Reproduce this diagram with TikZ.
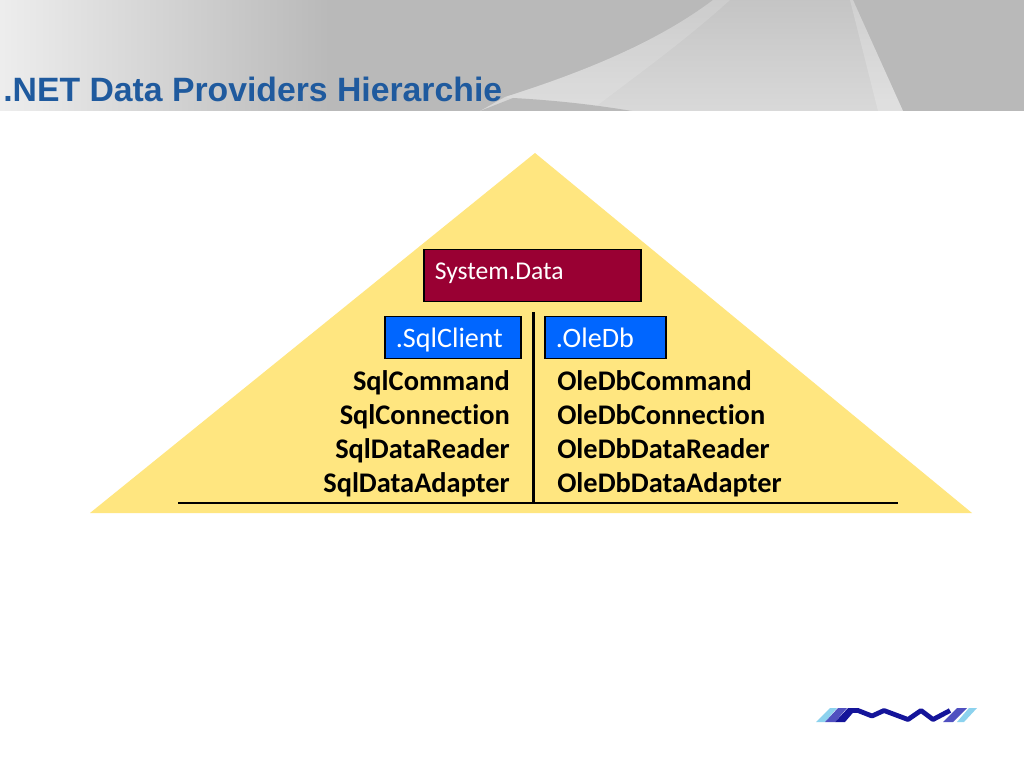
\documentclass[tikz,border=0pt]{standalone}
\usepackage{fontspec}
\setmainfont[RawFeature=-liga]{Carlito}
\newfontfamily\titlefont{Liberation Sans}
\usetikzlibrary{calc}
\definecolor{headgrey}{HTML}{B9B9B9}
\definecolor{roofyellow}{HTML}{FFE680}
\definecolor{winered}{HTML}{990033}
\definecolor{clientblue}{HTML}{0066FF}
\definecolor{titleblue}{HTML}{1F5A9E}
\definecolor{logodark}{HTML}{14149A}
\definecolor{logomid}{HTML}{5050C0}
\definecolor{logolight}{HTML}{8CD2EE}
\tikzset{
	nsbox/.style={draw=black, line width=0.45mm, text=white, anchor=west, align=left, inner xsep=11*0.025cm, text height=17pt, text depth=2.3pt, font=\fontsize{20}{22}\selectfont},
	classname/.style={font=\fontsize{20.2}{22}\selectfont\bfseries, text=black, inner sep=0pt},
	rule/.style={line width=0.55mm, black},
}
\begin{document}
\begin{tikzpicture}[x=0.025cm, y=-0.025cm]
		%%%%% START %%%%%
		\useasboundingbox (0, 0) rectangle (1024, 768);
		\fill[white] (0, 0) rectangle (1024, 768);
		
		% header band
		\shade[left color=white!93!black, right color=headgrey] (0, 0) rectangle (330, 111);
		\fill[headgrey] (330, 0) rectangle (1024, 111);
		\shade[shading angle=35, top color=black!23, bottom color=black!15] (713, 0) -- (853, 0) -- (903, 111) -- (480, 111) -- (505, 97) .. controls (590, 70) and (660, 40) .. cycle;
		\fill[white, fill opacity=0.14] (505, 97) .. controls (590, 70) and (660, 40) .. (713, 0) -- (730, 0) .. controls (680, 45) and (630, 80) .. (590, 111) -- (560, 111) -- cycle;
		\fill[white, fill opacity=0.2] (850, 0) -- (853, 0) -- (903, 111) -- (878, 111) -- cycle;
		\fill[headgrey] (480, 111) -- (513, 98) .. controls (550, 100) and (590, 104) .. (632, 111) -- cycle;
		\node[font=\titlefont\fontsize{24}{26}\selectfont\bfseries, text=titleblue, anchor=base west, inner sep=0pt] (title) at (3, 102) {.NET Data Providers Hierarchie};
		
		% roof
		\fill[roofyellow] (535, 153) -- (972, 513) -- (90, 513) -- cycle;
		
		\node[nsbox, fill=winered, minimum width=217*0.025cm, minimum height=52*0.025cm, text width=195*0.025cm, text height=13pt, text depth=8pt, font=\fontsize{18.2}{20}\selectfont] (sysdata) at (423, 275.5) {System.Data};
		\node[nsbox, fill=clientblue, minimum width=136*0.025cm, minimum height=42*0.025cm, text width=114*0.025cm] (sqlclient) at (384, 337.5) {.SqlClient};
		\node[nsbox, fill=clientblue, minimum width=121*0.025cm, minimum height=42*0.025cm, text width=99*0.025cm] (oledb) at (544, 337.5) {.OleDb};
		
		% class lists
		\node[classname, anchor=base east] (sqlcmd) at (510, 390) {SqlCommand};
		\node[classname, anchor=base east] (sqlconn) at (510, 424) {SqlConnection};
		\node[classname, anchor=base east] (sqlread) at (510, 458) {SqlDataReader};
		\node[classname, anchor=base east] (sqladapt) at (510, 492) {SqlDataAdapter};
		\node[classname, anchor=base west] (olecmd) at (557, 390) {OleDbCommand};
		\node[classname, anchor=base west] (oleconn) at (557, 424) {OleDbConnection};
		\node[classname, anchor=base west] (oleread) at (557, 458) {OleDbDataReader};
		\node[classname, anchor=base west] (oleadapt) at (557, 492) {OleDbDataAdapter};
		
		\coordinate (divtop) at (533.5, 312);
		\coordinate (divbot) at (533.5, 503);
		\coordinate (baseleft) at (178, 503);
		\coordinate (baseright) at (898, 503);
		\draw[rule] (divtop) -- (divbot);
		\draw[rule] (baseleft) -- (baseright);
		
		% logo
		\fill[logolight] (816, 722) -- (830, 708) -- (837, 708) -- (825, 722) -- cycle;
		\fill[logomid] (825, 722) -- (838, 708) -- (847, 708) -- (835, 722) -- cycle;
		\fill[logodark] (835, 722) -- (848, 708) -- (857, 708) -- (845, 722) -- cycle;
		\draw[logodark, line width=1.2mm, line join=round] (852, 710.5) -- (858, 710.5) -- (872, 716) -- (884, 710.5) -- (908, 719.5) -- (921, 710.5) -- (933, 719.5) -- (950, 710.5);
		\fill[logomid] (943, 722) -- (957, 708) -- (967, 708) -- (953, 722) -- cycle;
		\fill[logolight] (957, 722) -- (969, 708) -- (977, 708) -- (964, 722) -- cycle;
		%%%%% END %%%%%
	\end{tikzpicture}
\end{document}
